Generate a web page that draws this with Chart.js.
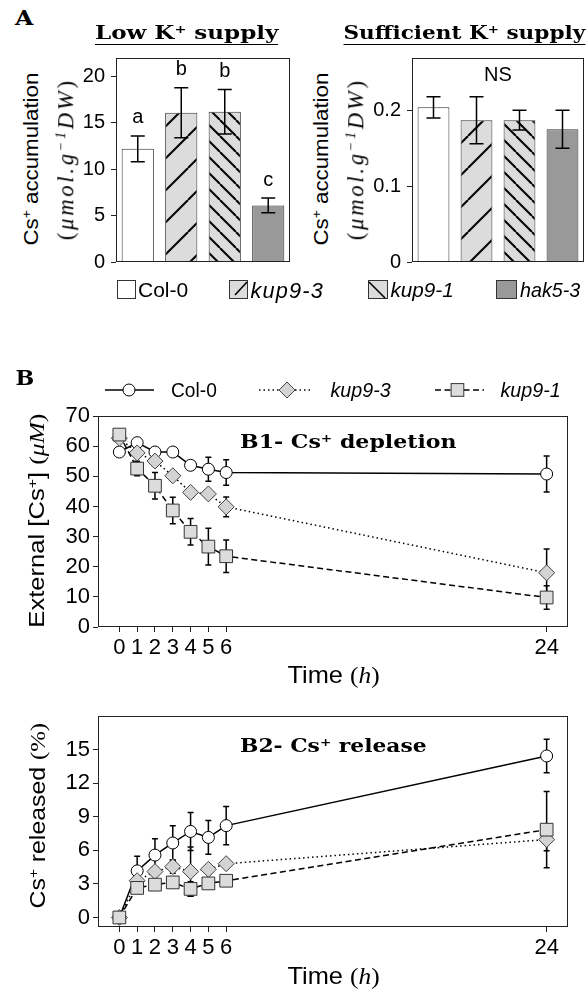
<!DOCTYPE html>
<html><head><meta charset="utf-8">
<script src="https://cdn.jsdelivr.net/npm/chart.js@4.4.1/dist/chart.umd.min.js"></script>
<style>
html,body{margin:0;padding:0;background:#fff}
body{width:587px;height:992px;position:relative;overflow:hidden;font-family:'Liberation Sans',Arial,sans-serif;color:#000}
canvas{position:absolute}
.lbl{position:absolute;white-space:nowrap;line-height:1.15;transform-origin:50% 50%}
.sb{font-family:'DejaVu Serif',serif;font-weight:bold}
.mi{font-family:'Liberation Serif','DejaVu Serif',serif;font-style:italic}
.mr{font-family:'Liberation Serif','DejaVu Serif',serif}
sup{font-size:0.62em;vertical-align:0;position:relative;top:-0.55em;line-height:0}
.ul{border-bottom:1.6px solid #000;padding-bottom:1px}
</style></head>
<body>
<canvas id="cA1" width="240" height="240" style="left:60px;top:40px;width:240px;height:240px"></canvas>
<canvas id="cA2" width="247" height="240" style="left:340px;top:40px;width:247px;height:240px"></canvas>
<canvas id="cB1" width="547" height="270" style="left:40px;top:400px;width:547px;height:270px"></canvas>
<canvas id="cB2" width="547" height="270" style="left:40px;top:700px;width:547px;height:270px"></canvas>

<svg style="position:absolute;left:0;top:278px" width="587" height="24">
  <rect x="117.5" y="2.5" width="18" height="18" fill="#fff" stroke="#333" stroke-width="1"/>
  <rect x="229.5" y="2.5" width="18" height="18" fill="#dcdcdc" stroke="#333" stroke-width="1"/>
  <line x1="235" y1="17" x2="247" y2="4" stroke="#000" stroke-width="1.6"/>
  <rect x="368.5" y="2.5" width="19" height="18" fill="#dcdcdc" stroke="#333" stroke-width="1"/>
  <line x1="369" y1="4" x2="385" y2="20" stroke="#000" stroke-width="1.6"/>
  <rect x="496.5" y="2.5" width="20" height="18" fill="#999" stroke="#333" stroke-width="1"/>
</svg>

<svg style="position:absolute;left:0;top:378px" width="587" height="24">
  <line x1="105" y1="12" x2="154" y2="12" stroke="#000" stroke-width="1.5"/>
  <circle cx="129" cy="12" r="6" fill="#fff" stroke="#000" stroke-width="1"/>
  <line x1="259" y1="12" x2="311" y2="12" stroke="#000" stroke-width="1.5" stroke-dasharray="1.5 3"/>
  <polygon points="287,4 295,12 287,20 279,12" fill="#d3d3d3" stroke="#444" stroke-width="1"/>
  <line x1="435" y1="12" x2="484" y2="12" stroke="#000" stroke-width="1.5" stroke-dasharray="6 3.5"/>
  <rect x="451.1" y="5.6" width="12.7" height="12.7" fill="#dcdcdc" stroke="#333" stroke-width="1"/>
</svg>

<script>
// ---------- data ----------
const genotypes = ['Col-0', 'kup9-3', 'kup9-1', 'hak5-3'];
const lowK = [12.2, 16.1, 16.2, 6.1];
const lowKErr = [1.4, 2.7, 2.4, 0.8];
const lowKLetters = ['a', 'b', 'b', 'c'];
const suffK = [0.204, 0.187, 0.187, 0.175];
const suffKErr = [0.014, 0.031, 0.013, 0.025];
const lowKTicks = [0, 5, 10, 15, 20];
const suffKTicks = [0, 0.1, 0.2];

const timeH = [0, 1, 2, 3, 4, 5, 6, 24];
const depCol0 = [58.1, 61.2, 58.1, 58.1, 53.7, 52.4, 51.3, 50.8];
const depCol0Err = [1.0, 1.0, 1.2, 1.0, 1.2, 4.0, 4.2, 6.0];
const depKup93 = [62.7, 57.8, 55.1, 50.2, 44.7, 44.2, 39.9, 18.0];
const depKup93Err = [1.0, 1.2, 1.2, 1.2, 1.2, 1.2, 3.3, 7.9];
const depKup91 = [63.9, 52.6, 46.9, 38.7, 31.6, 26.7, 23.5, 9.8];
const depKup91Err = [1.0, 2.4, 4.4, 4.4, 4.4, 6.1, 5.4, 3.9];
const depTicks = [0, 10, 20, 30, 40, 50, 60, 70];

const relCol0 = [0, 4.16, 5.57, 6.65, 7.68, 7.15, 8.2, 14.42];
const relCol0Err = [0.2, 1.3, 1.45, 1.55, 1.7, 1.5, 1.7, 1.5];
const relKup93 = [0, 3.28, 4.1, 4.54, 4.1, 4.3, 4.8, 6.96];
const relKup93Err = [0.2, 0.4, 0.4, 0.6, 2.2, 0.4, 0.4, 1.0];
const relKup91 = [0, 2.64, 2.93, 3.13, 2.55, 3.04, 3.28, 7.84];
const relKup91Err = [0.2, 0.3, 0.3, 0.4, 0.65, 0.4, 0.4, 3.4];
const relTicks = [0, 3, 6, 9, 12, 15];

// ---------- helpers ----------
Chart.defaults.font.family = "'Liberation Sans', Arial, sans-serif";
Chart.defaults.color = '#000';
Chart.defaults.animation = false;

function hatch(dir, period, lw) {
  const c = document.createElement('canvas');
  c.width = period; c.height = period;
  const g = c.getContext('2d');
  g.fillStyle = '#dcdcdc'; g.fillRect(0, 0, period, period);
  g.strokeStyle = '#000'; g.lineWidth = lw;
  for (const o of [-period, 0, period]) {
    g.beginPath();
    if (dir === '/') { g.moveTo(o, period); g.lineTo(o + period, 0); }
    else { g.moveTo(o, 0); g.lineTo(o + period, period); }
    g.stroke();
  }
  return g.createPattern(c, 'repeat');
}

const frame = {
  id: 'frame',
  afterDraw(c) {
    const a = c.chartArea, x = c.ctx;
    x.save(); x.strokeStyle = '#222'; x.lineWidth = 1;
    x.strokeRect(Math.round(a.left) + 0.5, Math.round(a.top) + 0.5,
      Math.round(a.right - a.left) - 1, Math.round(a.bottom - a.top) - 1);
    x.restore();
  }
};

function drawErr(chart, opts) {
  const ctx = chart.ctx, ys = chart.scales.y;
  ctx.save(); ctx.strokeStyle = '#000'; ctx.lineWidth = opts.lw || 1.5;
  chart.data.datasets.forEach((ds, i) => {
    if (!ds.errors) return;
    const meta = chart.getDatasetMeta(i);
    meta.data.forEach((el, j) => {
      const d = ds.data[j];
      const v = typeof d === 'number' ? d : d.y;
      const e = ds.errors[j];
      const x = el.x, y1 = ys.getPixelForValue(v + e), y2 = ys.getPixelForValue(v - e);
      const cap = opts.cap || 4;
      ctx.beginPath();
      ctx.moveTo(x, y1); ctx.lineTo(x, y2);
      ctx.moveTo(x - cap, y1); ctx.lineTo(x + cap, y1);
      ctx.moveTo(x - cap, y2); ctx.lineTo(x + cap, y2);
      ctx.stroke();
    });
  });
  ctx.restore();
}
const errorBars = {
  id: 'errorBars',
  beforeDatasetsDraw(c, a, o) { if (o.under) drawErr(c, o); },
  afterDatasetsDraw(c, a, o) { if (!o.under) drawErr(c, o); }
};

const barText = {
  id: 'barText',
  afterDatasetsDraw(c, a, o) {
    const ctx = c.ctx, ys = c.scales.y, ds = c.data.datasets[0];
    const meta = c.getDatasetMeta(0);
    ctx.save(); ctx.fillStyle = '#000';
    ctx.font = "20px 'Liberation Sans', Arial, sans-serif";
    ctx.textAlign = 'center'; ctx.textBaseline = 'middle';
    if (ds.letters) {
      meta.data.forEach((el, j) => {
        ctx.fillText(ds.letters[j], el.x, ys.getPixelForValue(ds.data[j] + ds.errors[j]) - 18);
      });
    }
    if (o.ns) {
      const x = (meta.data[1].x + meta.data[2].x) / 2;
      ctx.fillText('NS', x, c.chartArea.top + 17);
    }
    ctx.restore();
  }
};

const fillsA = () => ['#ffffff', hatch('/', 32, 2), hatch('\\', 16, 2), '#999999'];

function barChart(id, values, errs, ticks, yMax, yW, padTop, padRight, fmt, letters, ns) {
  return new Chart(document.getElementById(id), {
    type: 'bar',
    data: { labels: genotypes, datasets: [{
      data: values, errors: errs, letters: letters,
      backgroundColor: fillsA(), borderColor: '#333', borderWidth: 1,
      barPercentage: 0.74, categoryPercentage: 1 }] },
    options: {
      responsive: false, animation: false,
      layout: { padding: { top: padTop, right: padRight, left: 0, bottom: 0 } },
      plugins: { legend: { display: false }, tooltip: { enabled: false },
        errorBars: { cap: 7, lw: 1.5 }, barText: { ns: ns } },
      scales: {
        x: { grid: { display: false }, border: { display: false }, ticks: { display: false },
             afterFit(s) { s.height = 10; } },
        y: { min: 0, max: yMax,
             grid: { drawOnChartArea: false, color: '#222', tickLength: 5 },
             border: { display: false },
             ticks: { padding: 6, font: { size: 20 }, callback: fmt },
             afterBuildTicks(s) { s.ticks = ticks.map(v => ({ value: v })); },
             afterFit(s) { s.width = yW; } }
      }
    },
    plugins: [frame, errorBars, barText]
  });
}

barChart('cA1', lowK, lowKErr, lowKTicks, 22, 56, 16, 10, v => String(v), lowKLetters, false);
barChart('cA2', suffK, suffKErr, suffKTicks, 0.269, 72, 15, 3, v => v === 0 ? '0' : v.toFixed(1), null, true);

function pts(vals) { return vals.map((v, i) => ({ x: timeH[i], y: v })); }

function lineChart(id, c0, c0e, k3, k3e, k1, k1e, ticks, yMin, yMax) {
  return new Chart(document.getElementById(id), {
    type: 'scatter',
    data: { datasets: [
      { data: pts(c0), errors: c0e, showLine: true, borderColor: '#000', borderWidth: 1.5,
        pointStyle: 'circle', pointRadius: 6, pointBackgroundColor: '#fff',
        pointBorderColor: '#000', pointBorderWidth: 1, order: 3 },
      { data: pts(k3), errors: k3e, showLine: true, borderColor: '#000', borderWidth: 1.5,
        borderDash: [1.5, 3], pointStyle: 'rectRot', pointRadius: 8,
        pointBackgroundColor: '#d3d3d3', pointBorderColor: '#444', pointBorderWidth: 1, order: 2 },
      { data: pts(k1), errors: k1e, showLine: true, borderColor: '#000', borderWidth: 1.5,
        borderDash: [6, 3.5], pointStyle: 'rect', pointRadius: 9,
        pointBackgroundColor: '#dcdcdc', pointBorderColor: '#333', pointBorderWidth: 1, order: 1 }
    ] },
    options: {
      responsive: false, animation: false,
      layout: { padding: { top: 13, right: 19, left: 0, bottom: 0 } },
      plugins: { legend: { display: false }, tooltip: { enabled: false },
        errorBars: { cap: 3, lw: 1.5, under: true } },
      scales: {
        x: { type: 'linear', min: -1.2, max: 25.2,
             grid: { drawOnChartArea: false, color: '#222', tickLength: 5 },
             border: { display: false },
             ticks: { padding: 3, font: { size: 22 }, maxRotation: 0, callback: v => String(v) },
             afterBuildTicks(s) { s.ticks = timeH.map(v => ({ value: v })); },
             afterFit(s) { s.height = 43; } },
        y: { min: yMin, max: yMax,
             grid: { drawOnChartArea: false, color: '#222', tickLength: 5 },
             border: { display: false },
             ticks: { padding: 3, font: { size: 22 }, callback: v => String(v) },
             afterBuildTicks(s) { s.ticks = ticks.map(v => ({ value: v })); },
             afterFit(s) { s.width = 58; } }
      }
    },
    plugins: [frame, errorBars]
  });
}

lineChart('cB1', depCol0, depCol0Err, depKup93, depKup93Err, depKup91, depKup91Err, depTicks, 0, 70);
lineChart('cB2', relCol0, relCol0Err, relKup93, relKup93Err, relKup91, relKup91Err, relTicks, -0.85, 17.97);

// ---------- text ----------
function place(html, cx, cy, len, size, cls, rot, spread) {
  const d = document.createElement('div');
  d.className = 'lbl ' + (cls || '');
  d.style.fontSize = size + 'px';
  d.innerHTML = html;
  document.body.appendChild(d);
  let w = d.offsetWidth;
  let k = 1;
  if (len) {
    if (spread && len > w * 1.02) {
      const n = Math.max(1, d.textContent.length - 1);
      d.style.letterSpacing = ((len - w) / n) + 'px';
      w = d.offsetWidth;
    }
    k = len / w;
  }
  const h = d.offsetHeight;
  d.style.left = (cx - w / 2) + 'px';
  d.style.top = (cy - h / 2) + 'px';
  d.style.transform = (rot ? 'rotate(' + rot + 'deg) ' : '') + 'scaleX(' + k + ')';
  return d;
}
const ySub = '(<span class="mi">μmol.g<sup>−1</sup>DW</span>)';
place('A', 24, 17.5, 18, 21, 'sb');
place('<span class="ul">Low K<sup>+</sup> supply</span>', 186.5, 33, 183, 19, 'sb');
place('<span class="ul">Sufficient K<sup>+</sup> supply</span>', 464, 33, 242, 19, 'sb');
place('Cs<sup>+</sup> accumulation', 31, 158.5, 173, 21, '', -90);
place(ySub, 66, 159, 162, 23, 'mr', -90, true);
place('Cs<sup>+</sup> accumulation', 321, 158.5, 173, 21, '', -90);
place(ySub, 356, 159, 162, 23, 'mr', -90, true);
place('Col-0', 163, 290, 50, 21, '');
place('<i>kup9-3</i>', 286.5, 290, 73, 22, '', 0, true);
place('<i>kup9-1</i>', 421.5, 290, 63, 21, '');
place('<i>hak5-3</i>', 550, 290, 60, 21, '');

place('B', 24.5, 377.5, 19, 21, 'sb');
place('Col-0', 194, 390, 46, 20, '');
place('<i>kup9-3</i>', 360, 390, 60, 20, '');
place('<i>kup9-1</i>', 530.5, 390, 60, 20, '');
place('B1- Cs<sup>+</sup> depletion', 348.7, 442, 217, 19, 'sb');
place('External [Cs<sup>+</sup>] <span class="mr">(<i>μM</i>)</span>', 36.5, 520, 214, 22, '', -90);
place('Time <span class="mr">(<i>h</i>)</span>', 333, 675, 92, 24, '');

place('B2- Cs<sup>+</sup> release', 333.7, 746, 187, 19, 'sb');
place('Cs<sup>+</sup> released <span class="mr">(%)</span>', 37, 815.5, 185, 22, '', -90);
place('Time <span class="mr">(<i>h</i>)</span>', 333, 976, 92, 24, '');
</script>
</body></html>
